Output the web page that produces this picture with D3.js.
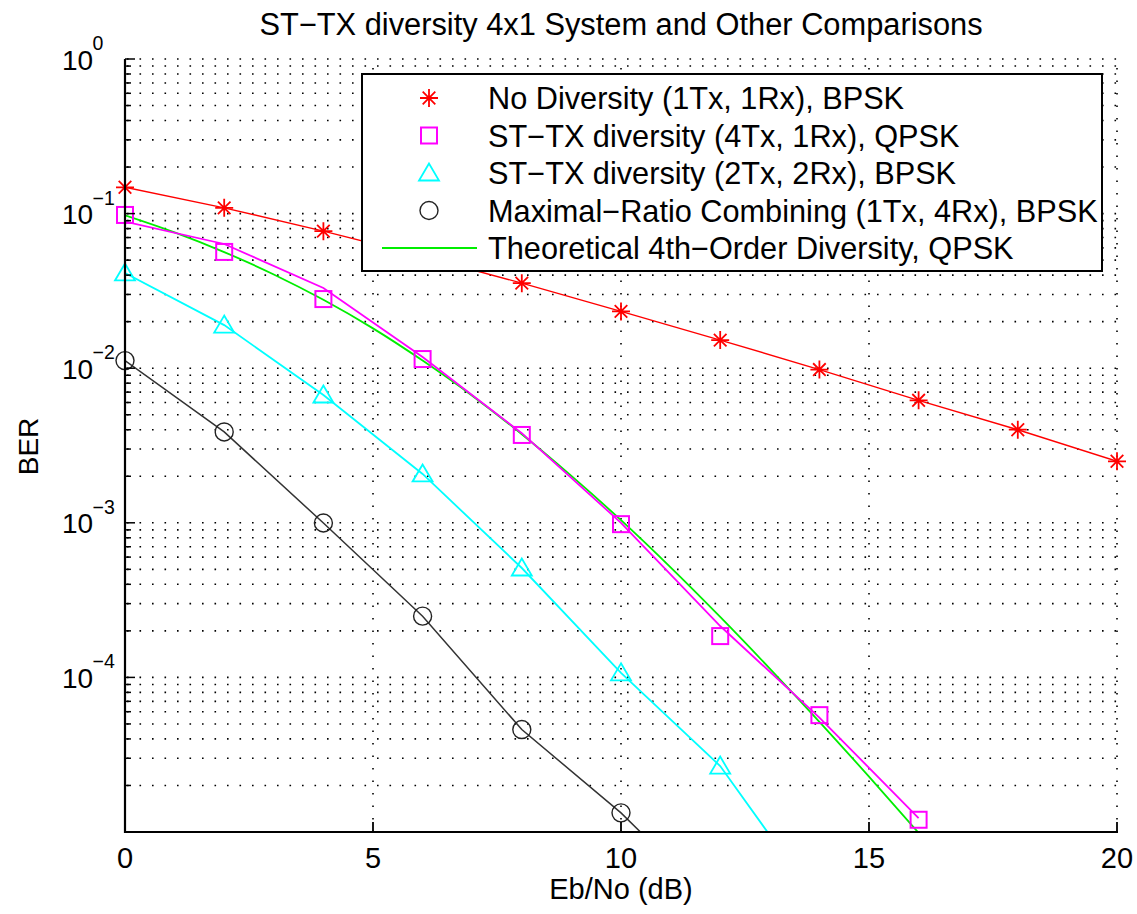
<!DOCTYPE html>
<html>
<head>
<meta charset="utf-8">
<script src="https://cdn.jsdelivr.net/npm/d3@7"></script>
<style>
  html, body { margin: 0; padding: 0; background: #fff; }
  svg { display: block; font-family: "Liberation Sans", Arial, Helvetica, sans-serif; }
</style>
</head>
<body>
<svg id="chart" width="1137" height="914"></svg>
<script>
// Eb/No grid (dB) for each simulated curve
const snrNoDiv = [0, 2, 4, 6, 8, 10, 12, 14, 16, 18, 20];
const berNoDiv = [0.148, 0.109, 0.077, 0.053, 0.0355, 0.0233, 0.0152, 0.0098, 0.0062, 0.0040, 0.0025];

const snrSttx4 = [0, 2, 4, 6, 8, 10, 12, 14, 16];
const berSttx4Marks = [0.098, 0.0565, 0.028, 0.01146, 0.0037, 0.00098, 0.000185, 0.000057, 0.000012];
const berSttx4Line  = [0.0887, 0.0636, 0.0330, 0.0118, 0.0038, 0.00100, 0.000215, 0.000055, 0.0000123];

const snrSttx22 = [0, 2, 4, 6, 8, 10, 12, 14];
const berSttx22 = [0.0413, 0.0190, 0.00671, 0.00207, 0.00051, 0.000107, 0.0000267, 0.0000034];

const snrMrc = [0, 2, 4, 6, 8, 10, 12];
const berMrc = [0.0112, 0.00387, 0.000997, 0.000249, 0.000046, 0.0000133, 0.0000031];

// theoretical 4th-order diversity curve, 1 dB steps
const snrTheory = [0, 1, 2, 3, 4, 5, 6, 7, 8, 9, 10, 11, 12, 13, 14, 15, 16, 17];
const berTheory = [0.0975, 0.0756, 0.0564, 0.0404, 0.0277, 0.0181, 0.0112, 0.00664, 0.00374,
                   0.00201, 0.00104, 0.000515, 0.000246, 0.000114, 0.0000516, 0.0000228,
                   0.00000987, 0.0000042];

const xTicks = [0, 5, 10, 15, 20];
const yMajor = [1, 1e-1, 1e-2, 1e-3, 1e-4];
const yTickExp = ["0", "\u22121", "\u22122", "\u22123", "\u22124"];

const legendLabels = [
  "No Diversity (1Tx, 1Rx), BPSK",
  "ST\u2212TX diversity (4Tx, 1Rx), QPSK",
  "ST\u2212TX diversity (2Tx, 2Rx), BPSK",
  "Maximal\u2212Ratio Combining (1Tx, 4Rx), BPSK",
  "Theoretical 4th\u2212Order Diversity, QPSK"
];

const svg = d3.select("#chart");
const L = 125, R = 1117, T = 59, B = 832;
const x = d3.scaleLinear().domain([0, 20]).range([L, R]);
const y = d3.scaleLog().domain([1e-5, 1]).range([B, T]);

// log grid values: every minor step of every decade
const yGrid = [];
for (let e = -5; e < 0; e++) {
  for (let m = 1; m <= 9; m++) {
    const v = m * Math.pow(10, e);
    if (v > 1e-5) yGrid.push(v);
  }
}
yGrid.push(1);

// dotted grid
const grid = svg.append("g").attr("stroke", "#000").attr("stroke-width", 1.6)
  .attr("stroke-dasharray", "1.6 10.9");
grid.selectAll("line.h").data(yGrid).join("line")
  .attr("x1", L + 2).attr("x2", R).attr("y1", d => y(d)).attr("y2", d => y(d));
grid.selectAll("line.v").data(xTicks.filter(d => d > 0)).join("line")
  .attr("x1", d => x(d)).attr("x2", d => x(d)).attr("y1", B).attr("y2", T);

// clip for curves
svg.append("clipPath").attr("id", "plotclip")
  .append("rect").attr("x", L).attr("y", T).attr("width", R - L).attr("height", B - T);

const plot = svg.append("g");
const lines = plot.append("g").attr("clip-path", "url(#plotclip)").attr("fill", "none");

function pts(xs, ys) { return xs.map((v, i) => [v, ys[i]]); }
const lineGen = d3.line().x(d => x(d[0])).y(d => y(d[1]));
const smoothGen = d3.line().x(d => x(d[0])).y(d => y(d[1])).curve(d3.curveMonotoneX);

lines.append("path").attr("d", lineGen(pts(snrNoDiv, berNoDiv)))
  .attr("stroke", "#ff0000").attr("stroke-width", 1.4);
lines.append("path").attr("d", smoothGen(pts(snrTheory, berTheory)))
  .attr("stroke", "#00ee00").attr("stroke-width", 1.8);
lines.append("path").attr("d", lineGen(pts(snrSttx4, berSttx4Line)))
  .attr("stroke", "#ff00ff").attr("stroke-width", 1.8);
lines.append("path").attr("d", lineGen(pts(snrSttx22, berSttx22)))
  .attr("stroke", "#00ffff").attr("stroke-width", 1.8);
lines.append("path").attr("d", lineGen(pts(snrMrc, berMrc)))
  .attr("stroke", "#333").attr("stroke-width", 1.5);

// marker shapes
const starPath = "M-9,0H9M0,-9V9M-6.3,-6.3L6.3,6.3M-6.3,6.3L6.3,-6.3";
function drawStar(g, cx, cy) {
  g.append("path").attr("d", starPath).attr("transform", `translate(${cx},${cy})`)
    .attr("stroke", "#ff0000").attr("stroke-width", 1.8).attr("fill", "none");
}
function drawSquare(g, cx, cy) {
  g.append("rect").attr("x", cx - 8).attr("y", cy - 8).attr("width", 16).attr("height", 16)
    .attr("stroke", "#ff00ff").attr("stroke-width", 2).attr("fill", "none");
}
function drawTriangle(g, cx, cy) {
  g.append("path").attr("d", "M0,-9.5L-10,7.5L10,7.5Z").attr("transform", `translate(${cx},${cy})`)
    .attr("stroke", "#00ffff").attr("stroke-width", 1.8).attr("fill", "none");
}
function drawCircle(g, cx, cy) {
  g.append("circle").attr("cx", cx).attr("cy", cy).attr("r", 9)
    .attr("stroke", "#222").attr("stroke-width", 1.4).attr("fill", "none");
}

const marks = plot.append("g");
const inside = v => v >= 1e-5 && v <= 1;
pts(snrNoDiv, berNoDiv).filter(d => inside(d[1])).forEach(d => drawStar(marks, x(d[0]), y(d[1])));
pts(snrSttx4, berSttx4Marks).filter(d => inside(d[1])).forEach(d => drawSquare(marks, x(d[0]), y(d[1])));
pts(snrSttx22, berSttx22).filter(d => inside(d[1])).forEach(d => drawTriangle(marks, x(d[0]), y(d[1])));
pts(snrMrc, berMrc).filter(d => inside(d[1])).forEach(d => drawCircle(marks, x(d[0]), y(d[1])));

// legend
const lg = svg.append("g");
lg.append("rect").attr("x", 362).attr("y", 74).attr("width", 740).attr("height", 197)
  .attr("fill", "#fff").attr("stroke", "#000").attr("stroke-width", 2);
const rowY = d3.scalePoint().domain(d3.range(legendLabels.length)).range([98, 248]);
const mx = 429;
drawStar(lg, mx, rowY(0));
drawSquare(lg, mx, rowY(1));
drawTriangle(lg, mx, rowY(2));
drawCircle(lg, mx, rowY(3));
lg.append("line").attr("x1", 382).attr("x2", 477).attr("y1", rowY(4)).attr("y2", rowY(4))
  .attr("stroke", "#00ee00").attr("stroke-width", 1.8);
lg.selectAll("text").data(legendLabels).join("text")
  .attr("x", 488).attr("y", (d, i) => rowY(i) + 11)
  .attr("font-size", 30.7).attr("fill", "#000").text(d => d);

// axes
const ax = svg.append("g").attr("stroke", "#000");
ax.append("line").attr("x1", L).attr("x2", L).attr("y1", T).attr("y2", B + 1).attr("stroke-width", 2.2);
ax.append("line").attr("x1", L - 1).attr("x2", R + 1).attr("y1", B).attr("y2", B).attr("stroke-width", 2.2);
// y ticks (inward)
ax.selectAll("line.yt").data(yGrid).join("line")
  .attr("x1", L).attr("x2", d => L + (yMajor.includes(d) ? 10 : 6))
  .attr("y1", d => y(d)).attr("y2", d => y(d)).attr("stroke-width", 1.5);
// x ticks (inward)
ax.selectAll("line.xt").data(xTicks).join("line")
  .attr("x1", d => x(d)).attr("x2", d => x(d)).attr("y1", B).attr("y2", B - 10).attr("stroke-width", 1.8);

// tick labels
const tl = svg.append("g").attr("fill", "#000");
tl.selectAll("text.xl").data(xTicks).join("text")
  .attr("x", d => x(d)).attr("y", B + 36).attr("text-anchor", "middle")
  .attr("font-size", 29).text(d => d);
yMajor.forEach((v, i) => {
  tl.append("text").attr("x", 62).attr("y", y(v) + 10.5).attr("font-size", 28).text("10");
  tl.append("text").attr("x", 92.5).attr("y", y(v) - 9).attr("font-size", 19.5).text(yTickExp[i]);
});

// titles
svg.append("text").attr("x", (L + R) / 2).attr("y", 35).attr("text-anchor", "middle")
  .attr("font-size", 30.8).text("ST\u2212TX diversity 4x1 System and Other Comparisons");
svg.append("text").attr("x", (L + R) / 2).attr("y", 899).attr("text-anchor", "middle")
  .attr("font-size", 29).text("Eb/No (dB)");
svg.append("text").attr("transform", `translate(38,${(T + B) / 2 + 1}) rotate(-90)`)
  .attr("text-anchor", "middle").attr("font-size", 28).text("BER");
</script>
</body>
</html>
